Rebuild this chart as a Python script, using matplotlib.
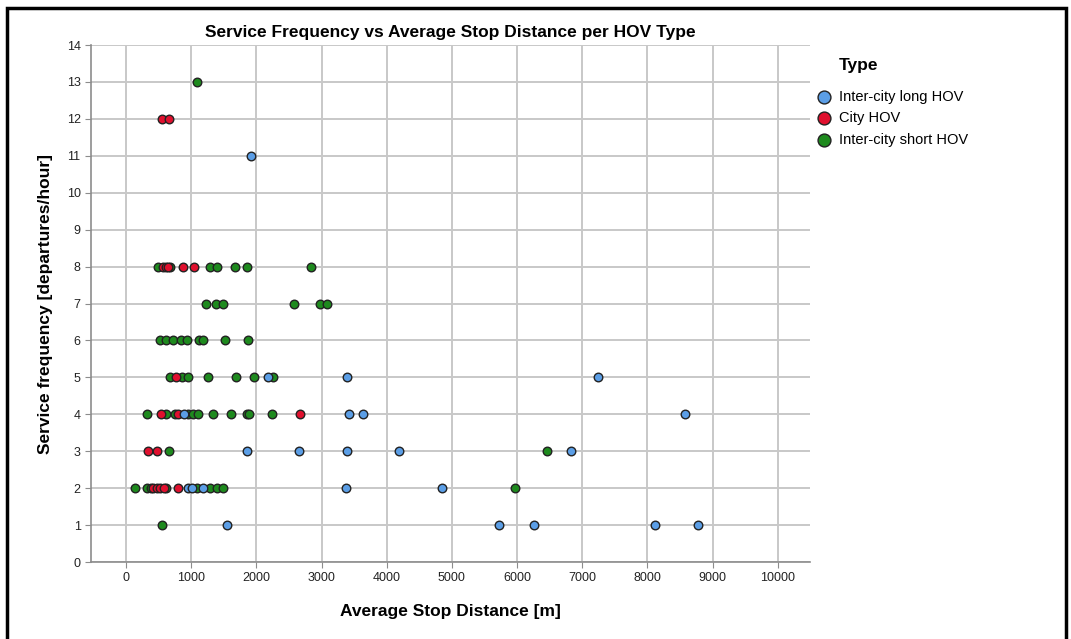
import matplotlib.pyplot as plt
from matplotlib.patches import Rectangle

plt.rcParams["font.family"] = ["Liberation Sans", "DejaVu Sans"]

# Inter-city long HOV
long_x = [1917, 2183, 3395, 7245, 890, 3425, 3640, 8580, 1861, 2648, 3384, 4187,
          6830, 950, 1010, 1186, 3370, 4852, 1544, 5721, 6253, 8113, 8784]
long_y = [11, 5, 5, 5, 4, 4, 4, 4, 3, 3, 3, 3,
          3, 2, 2, 2, 2, 2, 1, 1, 1, 1, 1]

# City HOV
city_x = [557, 655, 570, 610, 650, 870, 1050, 762, 532, 800, 2674, 332, 470,
          420, 470, 520, 575, 793]
city_y = [12, 12, 8, 8, 8, 8, 8, 5, 4, 4, 4, 3, 3,
          2, 2, 2, 2, 2]

# Inter-city short HOV
short_x = [1094,
           486, 680, 1288, 1391, 1677, 1856, 2837,
           1232, 1380, 1483, 2577, 2975, 3088,
           521, 613, 716, 838, 940, 1125, 1176, 1513, 1871,
           675, 854, 956, 1263, 1682, 1963, 2260,
           320, 620, 751, 946, 1033, 1110, 1340, 1615, 1851, 1891, 2234,
           665, 6462,
           140, 327, 380, 613, 1084, 1288, 1391, 1493, 5966,
           557]
short_y = [13,
           8, 8, 8, 8, 8, 8, 8,
           7, 7, 7, 7, 7, 7,
           6, 6, 6, 6, 6, 6, 6, 6, 6,
           5, 5, 5, 5, 5, 5, 5,
           4, 4, 4, 4, 4, 4, 4, 4, 4, 4, 4,
           3, 3,
           2, 2, 2, 2, 2, 2, 2, 2, 2,
           1]

x_ticks = list(range(0, 10001, 1000))
y_ticks = list(range(0, 15))

fig = plt.figure(figsize=(10.71, 6.39), dpi=100)
ax = fig.add_axes([0.085, 0.1205, 0.671, 0.809])

kw = dict(s=38, edgecolors="#222222", linewidths=1.0, zorder=3)
ax.scatter(short_x, short_y, color="#1e8a1e", label="Inter-city short HOV", **kw)
ax.scatter(city_x, city_y, color="#e0102e", label="City HOV", **kw)
ax.scatter(long_x, long_y, color="#5b9ee6", label="Inter-city long HOV", **kw)

ax.set_xlim(-537, 10490)
ax.set_ylim(0, 14)
ax.set_xticks(x_ticks)
ax.set_yticks(y_ticks)
ax.grid(True, color="#c8c8c8", linewidth=1.4, zorder=0)
ax.set_axisbelow(True)
for side in ("top", "right"):
    ax.spines[side].set_visible(False)
for side in ("left", "bottom"):
    ax.spines[side].set_color("#8c8c8c")
    ax.spines[side].set_linewidth(1.2)
ax.tick_params(axis="both", labelsize=9, colors="#8c8c8c", labelcolor="#222222", length=4)

ax.set_title("Service Frequency vs Average Stop Distance per HOV Type",
             fontsize=12.5, fontweight="bold", pad=6)
ax.set_xlabel("Average Stop Distance [m]", fontsize=12.5, fontweight="bold", labelpad=14)
ax.set_ylabel("Service frequency [departures/hour]", fontsize=12.5, fontweight="bold", labelpad=10)

handles, labels = ax.get_legend_handles_labels()
order = [2, 1, 0]
leg = ax.legend([handles[i] for i in order], [labels[i] for i in order],
                title="Type\n", loc="upper left", bbox_to_anchor=(0.997, 0.99),
                frameon=False, fontsize=10.5, markerscale=1.5,
                handlelength=1.2, handletextpad=0.45, labelspacing=0.5,
                borderaxespad=0.1)
leg.get_title().set_fontweight("bold")
leg.get_title().set_fontsize(12.5)
leg.get_title().set_linespacing(0.6)
leg._legend_box.align = "left"
leg.get_title().set_position((24, 0))

fig.patches.append(Rectangle((7 / 1071, -0.01), 1059 / 1071, 1 - 8 / 639 + 0.01,
                             transform=fig.transFigure, fill=False,
                             edgecolor="black", linewidth=2.5))

fig.savefig("out.png", dpi=100)
